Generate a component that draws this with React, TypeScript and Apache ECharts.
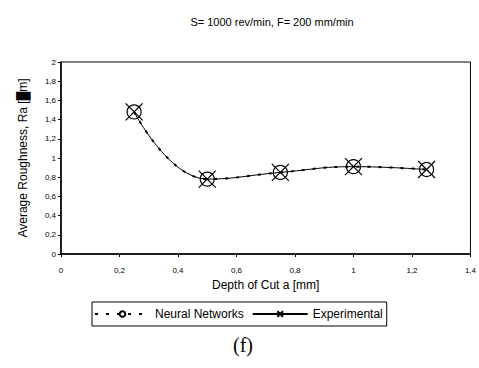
import React, { useEffect, useRef } from "react";
import * as echarts from "echarts";

const depth = [0.25, 0.5, 0.75, 1.0, 1.25];
const neural = [1.48, 0.78, 0.85, 0.91, 0.88];
const experimental = [1.48, 0.78, 0.85, 0.91, 0.88];
const titleText = "S= 1000 rev/min, F= 200 mm/min";
const xTitle = "Depth of Cut a [mm]";
const yTitle = "Average Roughness, Ra [\u2588m]";
const caption = "(f)";

const fmt = (v: number) => String(Math.round(v * 10) / 10).replace(".", ",");
const XPATH = "path://M0,0L10,10M10,0L0,10";

export default function App() {
  const ref = useRef<HTMLDivElement>(null);
  useEffect(() => {
    if (!ref.current) return;
    const chart = echarts.init(ref.current, null, { renderer: "svg" });
    const font = "'Liberation Sans', Arial, sans-serif";
    chart.setOption({
      animation: false,
      backgroundColor: "#fff",
      textStyle: { fontFamily: font },
      title: {
        text: titleText,
        left: 267,
        top: 11,
        textAlign: "center",
        textStyle: { fontSize: 11, fontWeight: "normal", color: "#000", fontFamily: font },
      },
      grid: {
        left: 61,
        right: 7,
        top: 62,
        bottom: 114,
        show: true,
        borderColor: "#000",
        borderWidth: 1,
        containLabel: false,
      },
      xAxis: {
        type: "value",
        min: 0,
        max: 1.4,
        interval: 0.2,
        name: xTitle,
        nameLocation: "middle",
        nameGap: 24,
        nameTextStyle: { fontSize: 12, color: "#000", fontFamily: font },
        axisLine: { show: true, lineStyle: { color: "#000", width: 1.5 } },
        axisTick: { show: true, length: 3, lineStyle: { color: "#000" } },
        axisLabel: { fontSize: 8, color: "#000", margin: 12, formatter: fmt, fontFamily: font },
        splitLine: { show: false },
      },
      yAxis: {
        type: "value",
        min: 0,
        max: 2,
        interval: 0.2,
        name: yTitle,
        nameLocation: "middle",
        nameGap: 32,
        nameTextStyle: { fontSize: 12, color: "#000", fontFamily: font },
        axisLine: { show: true, lineStyle: { color: "#000", width: 1.5 } },
        axisTick: { show: true, length: 3, lineStyle: { color: "#000" } },
        axisLabel: { fontSize: 8, color: "#000", margin: 5, formatter: fmt, fontFamily: font },
        splitLine: { show: false },
      },
      legend: {
        left: 92,
        top: 302,
        padding: [6, 4, 6, 2],
        borderColor: "#000",
        borderWidth: 1,
        itemWidth: 55,
        itemHeight: 7,
        itemGap: 8,
        textStyle: { fontSize: 12, color: "#000", fontFamily: font },
        data: ["Neural Networks", "Experimental"],
      },
      graphic: [
        {
          type: "text",
          left: 233,
          top: 335,
          style: {
            text: caption,
            fontSize: 20,
            fontFamily: "'Liberation Serif', 'Times New Roman', serif",
            fill: "#000",
          },
        },
      ],
      series: [
        {
          name: "Experimental",
          type: "line",
          data: depth.map((d, i) => [d, experimental[i]]),
          smooth: 0.45,
          symbol: XPATH,
          symbolSize: 17,
          showAllSymbol: true,
          lineStyle: { color: "#000", width: 1 },
          itemStyle: { color: "none", borderColor: "#000", borderWidth: 1.2 },
          z: 2,
        },
        {
          name: "Neural Networks",
          type: "line",
          data: depth.map((d, i) => [d, neural[i]]),
          smooth: 0.45,
          symbol: "circle",
          symbolSize: 14,
          lineStyle: { color: "#000", width: 2, type: [3, 8] },
          itemStyle: { color: "none", borderColor: "#000", borderWidth: 1.2, opacity: 1 },
          z: 3,
        },
      ],
    });
    return () => chart.dispose();
  }, []);
  return <div ref={ref} style={{ width: 479, height: 368, position: "absolute", left: 0, top: 0 }} />;
}
